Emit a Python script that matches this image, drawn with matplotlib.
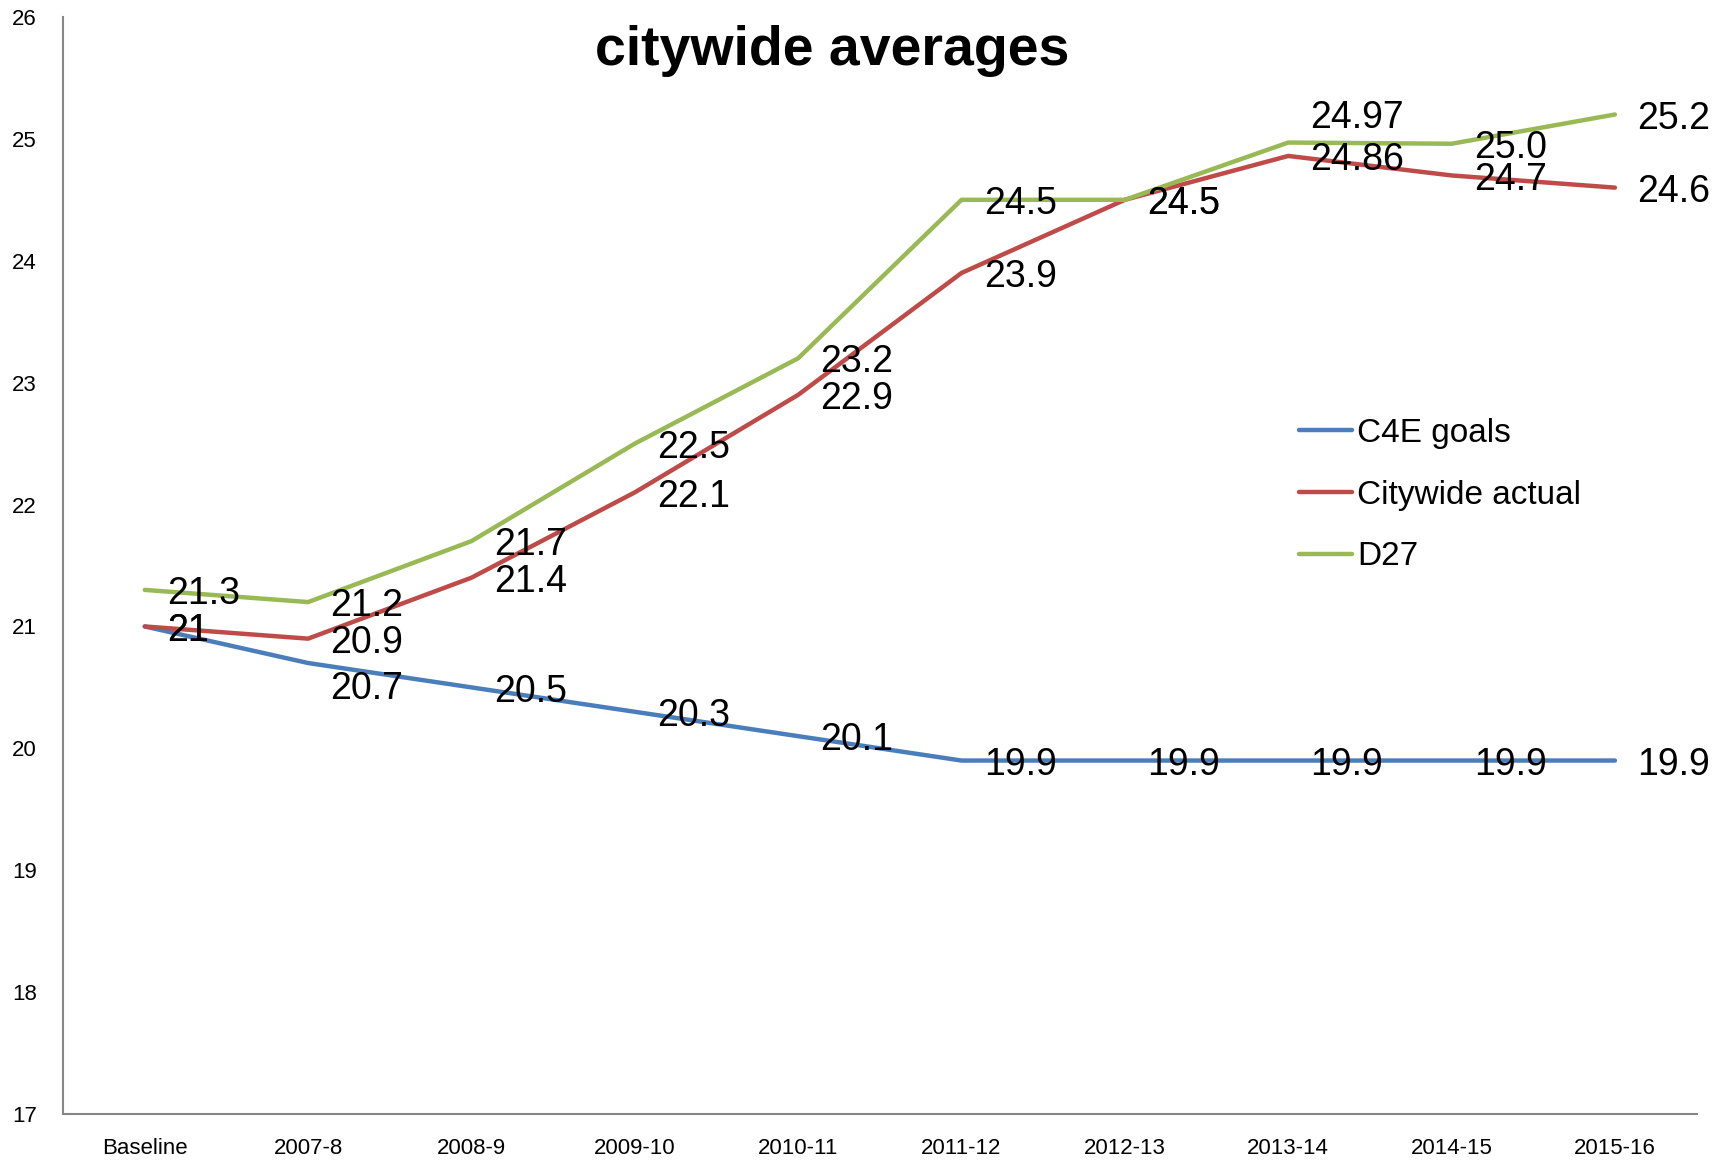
import matplotlib
matplotlib.use("Agg")
import matplotlib.pyplot as plt

plt.rcParams['font.family'] = ['Liberation Sans', 'DejaVu Sans']

categories = ["Baseline", "2007-8", "2008-9", "2009-10", "2010-11",
              "2011-12", "2012-13", "2013-14", "2014-15", "2015-16"]
c4e_goals = [21, 20.7, 20.5, 20.3, 20.1, 19.9, 19.9, 19.9, 19.9, 19.9]
citywide_actual = [21, 20.9, 21.4, 22.1, 22.9, 23.9, 24.5, 24.86, 24.7, 24.6]
d27 = [21.3, 21.2, 21.7, 22.5, 23.2, 24.5, 24.5, 24.97, 24.96, 25.2]

c4e_labels = ["21", "20.7", "20.5", "20.3", "20.1", "19.9", "19.9", "19.9", "19.9", "19.9"]
actual_labels = ["21", "20.9", "21.4", "22.1", "22.9", "23.9", "24.5", "24.86", "24.7", "24.6"]
d27_labels = ["21.3", "21.2", "21.7", "22.5", "23.2", "24.5", "24.5", "24.97", "25.0", "25.2"]

series = [
    ("C4E goals", c4e_goals, c4e_labels, "#4A7EBB"),
    ("Citywide actual", citywide_actual, actual_labels, "#BE4B48"),
    ("D27", d27, d27_labels, "#98B954"),
]

# label offset overrides (points) for a few manually moved labels
special_dy = {("C4E goals", 1): -19, ("D27", 7): 18}

fig = plt.figure(figsize=(17.33, 11.63), dpi=100)
ax = fig.add_axes([0.0364, 0.0421, 0.979 - 0.0364, 0.9854 - 0.0421])

x = list(range(len(categories)))
for name, vals, labs, col in series:
    ax.plot(x, vals, color=col, lw=3.2, label=name, solid_capstyle='round', solid_joinstyle='round')
for name, vals, labs, col in series:
    for i, (v, t) in enumerate(zip(vals, labs)):
        dy = special_dy.get((name, i), -3)
        ax.annotate(t, (i, v), xytext=(16, dy), textcoords='offset points',
                    ha='left', va='center', fontsize=27, color='black')

ax.set_xlim(-0.5, len(categories) - 0.5)
ax.set_ylim(17, 26)
ax.set_yticks(range(17, 27))
ax.set_xticks(x)
ax.set_xticklabels(categories)
ax.tick_params(axis='both', length=0, labelsize=16)
ax.tick_params(axis='y', pad=19)
ax.tick_params(axis='x', pad=17)
for lab in ax.get_yticklabels():
    lab.set_horizontalalignment('right')
for s in ['top', 'right']:
    ax.spines[s].set_visible(False)
for s in ['left', 'bottom']:
    ax.spines[s].set_color('#868686')
    ax.spines[s].set_linewidth(1.5)

fig.text(832 / 1733, 1 - 51 / 1163, "citywide averages", ha='center', va='center',
         fontsize=40, fontweight='bold')

leg = ax.legend(loc='upper left', bbox_to_anchor=(1299 / 1733, 1 - 418 / 1163),
                bbox_transform=fig.transFigure, frameon=False, fontsize=24,
                handlelength=1.6, handletextpad=0.15, labelspacing=0.92, borderpad=0,
                borderaxespad=0)
for h in leg.get_lines():
    h.set_linewidth(3.2)

fig.savefig("out.png", dpi=100)
